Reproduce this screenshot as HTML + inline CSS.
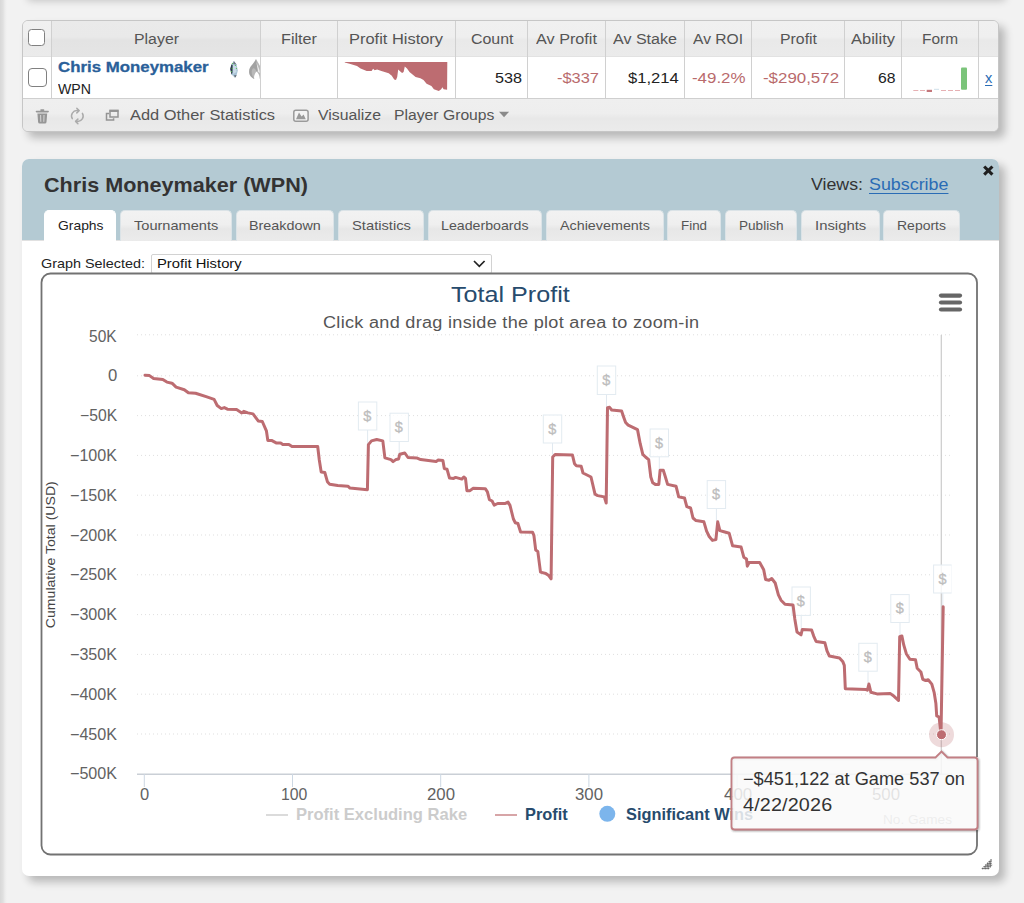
<!DOCTYPE html>
<html>
<head>
<meta charset="utf-8">
<title>Chris Moneymaker (WPN)</title>
<style>
*{box-sizing:border-box;margin:0;padding:0}
html,body{width:1024px;height:903px;overflow:hidden}
body{background:#f2f2f2;font-family:"Liberation Sans",sans-serif;position:relative;color:#222}
.a{position:absolute}
.t{position:absolute;white-space:nowrap;line-height:1}
#lstripe{left:0;top:0;width:8px;height:903px;background:linear-gradient(to right,#d8d8d8 0,#e0e0e0 3px,#ececec 5px,#f2f2f2 7px)}
#tstripe{left:22px;top:-20px;width:977px;height:14px;background:#fff;box-shadow:6px 6px 9px rgba(0,0,0,.24)}
#tbl{left:22px;top:20px;width:977px;height:112px;border:1px solid #c6c6c6;border-radius:6px;background:#efefef;box-shadow:6px 6px 9px rgba(0,0,0,.24);overflow:hidden}
#thead{left:0;top:0;width:976px;height:35px;background:linear-gradient(to bottom,#f0f0f0 0,#efefef 45%,#e9e9e9 55%,#ebebeb 100%)}
#trow{left:0;top:35px;width:976px;height:43px;background:#fff;border-top:1px solid #e2e2e2;border-bottom:1px solid #cfcfcf}
#tfoot{left:0;top:78px;width:976px;height:32px;background:linear-gradient(to bottom,#efefef 0,#eeeeee 45%,#e8e8e8 60%,#ebebeb 100%)}
.vd{position:absolute;top:0;width:1px;height:77px;background:#d0d0d0}
.cb{position:absolute;width:17px;height:17px;border:1.8px solid #808080;border-radius:3.5px;background:#fff}
#pnl{left:22px;top:159px;width:977px;height:717px;border-radius:7px;background:#fff;box-shadow:6px 6px 9px rgba(0,0,0,.24);overflow:hidden}
#phead{left:0;top:0;width:977px;height:82px;background:#b4cad3;border-bottom:1px solid #e1e1e1}
.tab{position:absolute;top:51px;height:31px;border-radius:5px 5px 0 0;background:linear-gradient(to bottom,#f2f2f2 0,#efefef 45%,#e7e7e7 60%,#ebebeb 100%);border:1px solid #dbe3e7;border-bottom:none}
.tab.on{background:#fff;border-color:#fff;height:32px}
#sel{left:151px;top:254px;width:341px;height:20px;background:#fff;border:1px solid #d2d2d2;border-radius:2px}
svg{position:absolute;left:0;top:0}
</style>
</head>
<body>
<div id="lstripe" class="a"></div>
<div id="tstripe" class="a"></div>
<div id="tbl" class="a">
<div id="thead" class="a"></div>
<div id="trow" class="a"></div>
<div id="tfoot" class="a"></div>
<div class="vd" style="left:28.0px"></div>
<div class="vd" style="left:237.0px"></div>
<div class="vd" style="left:313.5px"></div>
<div class="vd" style="left:431.5px"></div>
<div class="vd" style="left:504.0px"></div>
<div class="vd" style="left:582.0px"></div>
<div class="vd" style="left:661.0px"></div>
<div class="vd" style="left:728.0px"></div>
<div class="vd" style="left:821.0px"></div>
<div class="vd" style="left:878.0px"></div>
<div class="vd" style="left:954.5px"></div>
<div class="a" style="left:29px;top:0;width:208px;height:35px;background:rgba(0,0,0,.022)"></div>
<div class="cb" style="left:5px;top:8px"></div>
<div class="cb" style="left:4.5px;top:47px;width:19px;height:19px;border-radius:4px"></div>
</div>
<div id="pnl" class="a">
<div id="phead" class="a"></div>
<div class="tab on" style="left:22.0px;width:72.0px"></div>
<div class="tab" style="left:98.0px;width:112.0px"></div>
<div class="tab" style="left:213.5px;width:98.5px"></div>
<div class="tab" style="left:316.0px;width:86.0px"></div>
<div class="tab" style="left:406.0px;width:114.0px"></div>
<div class="tab" style="left:524.0px;width:118.0px"></div>
<div class="tab" style="left:645.0px;width:54.0px"></div>
<div class="tab" style="left:703.0px;width:72.0px"></div>
<div class="tab" style="left:779.0px;width:79.0px"></div>
<div class="tab" style="left:861.0px;width:77.0px"></div>
</div>
<div id="sel" class="a"></div>
<svg id="chart" width="1024" height="903" viewBox="0 0 1024 903">
<rect x="41.5" y="273.5" width="935.5" height="581" rx="9" ry="9" fill="#fff" stroke="#727272" stroke-width="1.8"/>
<path d="M474 261 L479.3 266.3 L484.6 261" fill="none" stroke="#222" stroke-width="1.7"/>
<line x1="137" x2="952" y1="334.8" y2="334.8" stroke="#dfdfdf" stroke-width="1" stroke-dasharray="1,3"/>
<line x1="137" x2="952" y1="375.8" y2="375.8" stroke="#dfdfdf" stroke-width="1" stroke-dasharray="1,3"/>
<line x1="137" x2="952" y1="415.6" y2="415.6" stroke="#dfdfdf" stroke-width="1" stroke-dasharray="1,3"/>
<line x1="137" x2="952" y1="455.4" y2="455.4" stroke="#dfdfdf" stroke-width="1" stroke-dasharray="1,3"/>
<line x1="137" x2="952" y1="495.2" y2="495.2" stroke="#dfdfdf" stroke-width="1" stroke-dasharray="1,3"/>
<line x1="137" x2="952" y1="535.0" y2="535.0" stroke="#dfdfdf" stroke-width="1" stroke-dasharray="1,3"/>
<line x1="137" x2="952" y1="574.8" y2="574.8" stroke="#dfdfdf" stroke-width="1" stroke-dasharray="1,3"/>
<line x1="137" x2="952" y1="614.6" y2="614.6" stroke="#dfdfdf" stroke-width="1" stroke-dasharray="1,3"/>
<line x1="137" x2="952" y1="654.4" y2="654.4" stroke="#dfdfdf" stroke-width="1" stroke-dasharray="1,3"/>
<line x1="137" x2="952" y1="694.2" y2="694.2" stroke="#dfdfdf" stroke-width="1" stroke-dasharray="1,3"/>
<line x1="137" x2="952" y1="734.0" y2="734.0" stroke="#dfdfdf" stroke-width="1" stroke-dasharray="1,3"/>
<line x1="137" x2="952" y1="774.2" y2="774.2" stroke="#cacfd6" stroke-width="1.4"/>
<line x1="144.3" x2="144.3" y1="774" y2="787" stroke="#cdd8e3" stroke-width="1"/>
<line x1="292.5" x2="292.5" y1="774" y2="787" stroke="#cdd8e3" stroke-width="1"/>
<line x1="440.7" x2="440.7" y1="774" y2="787" stroke="#cdd8e3" stroke-width="1"/>
<line x1="588.9" x2="588.9" y1="774" y2="787" stroke="#cdd8e3" stroke-width="1"/>
<line x1="737.1" x2="737.1" y1="774" y2="787" stroke="#cdd8e3" stroke-width="1"/>
<line x1="885.3" x2="885.3" y1="774" y2="787" stroke="#cdd8e3" stroke-width="1"/>
<line x1="941.3" x2="941.3" y1="335" y2="774" stroke="#cbcbcb" stroke-width="1.2"/>
<clipPath id="pc"><rect x="137" y="320" width="814.6" height="460"/></clipPath><g clip-path="url(#pc)">
<line x1="367.6" x2="367.6" y1="430" y2="444" stroke="#e1e9f0" stroke-width="1"/>
<rect x="358.4" y="402" width="18.4" height="28.0" fill="rgba(255,255,255,.8)" stroke="#e3ebf1" stroke-width="1"/>
<text x="367.3" y="420.5" text-anchor="middle" font-family="Liberation Sans" font-size="14.5" fill="#bdbdbd" stroke="#bdbdbd" stroke-width=".3">$</text>
<line x1="399.2" x2="399.2" y1="441.5" y2="454" stroke="#e1e9f0" stroke-width="1"/>
<rect x="390.0" y="413.2" width="18.4" height="28.3" fill="rgba(255,255,255,.8)" stroke="#e3ebf1" stroke-width="1"/>
<text x="398.9" y="431.7" text-anchor="middle" font-family="Liberation Sans" font-size="14.5" fill="#bdbdbd" stroke="#bdbdbd" stroke-width=".3">$</text>
<line x1="552.5" x2="552.5" y1="443" y2="454.5" stroke="#e1e9f0" stroke-width="1"/>
<rect x="543.3" y="415" width="18.4" height="28.0" fill="rgba(255,255,255,.8)" stroke="#e3ebf1" stroke-width="1"/>
<text x="552.2" y="433.5" text-anchor="middle" font-family="Liberation Sans" font-size="14.5" fill="#bdbdbd" stroke="#bdbdbd" stroke-width=".3">$</text>
<line x1="606.5" x2="606.5" y1="394.5" y2="407" stroke="#e1e9f0" stroke-width="1"/>
<rect x="597.3" y="366" width="18.4" height="28.5" fill="rgba(255,255,255,.8)" stroke="#e3ebf1" stroke-width="1"/>
<text x="606.2" y="384.5" text-anchor="middle" font-family="Liberation Sans" font-size="14.5" fill="#bdbdbd" stroke="#bdbdbd" stroke-width=".3">$</text>
<line x1="659.3" x2="659.3" y1="456.8" y2="470" stroke="#e1e9f0" stroke-width="1"/>
<rect x="650.1" y="429" width="18.4" height="27.8" fill="rgba(255,255,255,.8)" stroke="#e3ebf1" stroke-width="1"/>
<text x="659.0" y="447.5" text-anchor="middle" font-family="Liberation Sans" font-size="14.5" fill="#bdbdbd" stroke="#bdbdbd" stroke-width=".3">$</text>
<line x1="716.4" x2="716.4" y1="508.5" y2="521.5" stroke="#e1e9f0" stroke-width="1"/>
<rect x="707.2" y="480.6" width="18.4" height="27.9" fill="rgba(255,255,255,.8)" stroke="#e3ebf1" stroke-width="1"/>
<text x="716.1" y="499.1" text-anchor="middle" font-family="Liberation Sans" font-size="14.5" fill="#bdbdbd" stroke="#bdbdbd" stroke-width=".3">$</text>
<line x1="801.2" x2="801.2" y1="615.4" y2="630" stroke="#e1e9f0" stroke-width="1"/>
<rect x="792.0" y="587" width="18.4" height="28.4" fill="rgba(255,255,255,.8)" stroke="#e3ebf1" stroke-width="1"/>
<text x="800.9" y="605.5" text-anchor="middle" font-family="Liberation Sans" font-size="14.5" fill="#bdbdbd" stroke="#bdbdbd" stroke-width=".3">$</text>
<line x1="868.0" x2="868.0" y1="671.2" y2="684" stroke="#e1e9f0" stroke-width="1"/>
<rect x="858.8" y="643.3" width="18.4" height="27.9" fill="rgba(255,255,255,.8)" stroke="#e3ebf1" stroke-width="1"/>
<text x="867.7" y="661.8" text-anchor="middle" font-family="Liberation Sans" font-size="14.5" fill="#bdbdbd" stroke="#bdbdbd" stroke-width=".3">$</text>
<line x1="900.0" x2="900.0" y1="622.5" y2="636" stroke="#e1e9f0" stroke-width="1"/>
<rect x="890.8" y="594.6" width="18.4" height="27.9" fill="rgba(255,255,255,.8)" stroke="#e3ebf1" stroke-width="1"/>
<text x="899.7" y="613.1" text-anchor="middle" font-family="Liberation Sans" font-size="14.5" fill="#bdbdbd" stroke="#bdbdbd" stroke-width=".3">$</text>
<line x1="942.8" x2="942.8" y1="593" y2="606" stroke="#e1e9f0" stroke-width="1"/>
<rect x="933.6" y="565" width="18.4" height="28.0" fill="rgba(255,255,255,.8)" stroke="#e3ebf1" stroke-width="1"/>
<text x="942.5" y="583.5" text-anchor="middle" font-family="Liberation Sans" font-size="14.5" fill="#bdbdbd" stroke="#bdbdbd" stroke-width=".3">$</text>
</g>
<polyline points="145.0,375.2 149.5,375.6 153.6,378.5 162.8,379.5 166.9,382.1 172.0,383.2 176.1,387.1 184.3,389.7 188.4,392.8 195.6,393.2 206.9,396.9 214.1,399.4 217.2,405.5 221.3,408.6 224.3,407.6 227.4,409.2 236.6,409.6 241.8,412.9 243.8,411.3 247.9,412.9 253.0,413.9 258.2,420.9 262.3,421.5 266.4,430.8 267.8,440.4 271.5,440.4 276.6,443.1 280.7,443.1 282.8,444.5 288.9,444.5 292.0,446.5 317.7,446.5 319.3,460.0 321.2,471.9 324.8,472.5 327.4,481.7 329.7,484.2 337.7,485.6 347.9,486.2 350.0,488.1 367.4,489.7 368.4,444.6 371.5,440.9 376.7,439.5 382.8,440.9 384.9,457.9 391.0,459.6 393.1,461.6 396.1,459.4 398.6,459.0 399.8,454.2 404.8,453.0 408.0,457.5 416.6,457.9 420.7,459.6 436.1,461.6 438.2,460.0 442.9,460.6 444.3,468.6 447.0,469.2 449.5,478.0 453.6,478.4 455.6,477.4 461.8,479.1 463.8,477.0 465.5,478.4 466.9,490.7 470.0,490.7 473.0,488.3 485.3,488.7 487.4,491.8 489.4,499.6 492.1,501.0 494.2,505.1 497.7,503.5 504.8,503.6 508.0,502.1 510.0,505.4 513.4,519.0 515.3,522.7 517.9,523.5 520.6,532.0 532.5,532.2 533.9,535.4 535.7,550.0 537.8,551.4 540.5,572.1 545.8,573.5 549.0,575.8 551.1,578.8 552.7,457.0 555.1,454.4 572.4,454.9 574.5,463.7 576.4,465.8 581.2,466.3 583.0,473.0 591.0,477.0 595.0,494.2 597.7,495.6 604.3,496.9 606.2,503.0 607.5,407.8 609.6,407.3 611.7,410.0 621.6,411.0 623.7,417.2 625.6,422.5 628.2,425.1 637.5,429.6 640.2,443.7 642.8,454.4 645.5,457.0 648.7,459.7 650.8,477.0 652.7,482.8 655.3,484.4 658.8,484.4 660.1,470.3 663.3,470.3 665.4,477.0 667.6,484.4 676.1,486.3 678.7,496.9 684.5,498.0 686.8,506.7 690.6,508.0 693.0,518.0 696.0,520.6 703.9,521.8 706.6,531.1 709.2,536.5 712.4,540.4 715.9,539.6 717.7,521.8 719.9,530.6 723.9,531.7 729.2,533.3 732.6,545.8 741.1,547.1 743.8,557.2 746.5,559.0 747.3,566.2 749.1,562.5 759.7,562.5 763.7,569.7 765.6,579.5 769.0,580.3 771.7,578.5 775.2,583.0 778.4,594.9 781.0,600.2 785.0,604.2 793.0,605.0 794.8,618.9 797.0,632.1 801.0,634.8 802.3,629.5 811.6,630.0 813.7,636.1 816.1,641.5 824.9,642.8 827.0,650.8 829.4,656.1 839.5,657.9 842.7,661.4 844.3,665.4 845.3,688.8 866.1,689.6 867.4,690.2 868.9,684.0 870.9,692.3 877.0,693.9 890.4,693.6 894.1,696.3 898.5,700.5 899.7,636.7 901.9,636.0 903.8,645.2 906.3,653.7 909.9,659.3 915.5,659.8 917.2,668.3 920.9,672.0 922.8,679.3 925.7,680.5 928.2,679.8 931.8,684.1 934.2,692.7 935.9,703.6 936.7,715.8 939.1,717.0 941.0,734.0 943.2,606.8" fill="none" stroke="#bd6c71" stroke-width="3" stroke-linejoin="round" stroke-linecap="round"/>
<circle cx="941.5" cy="734.7" r="12.5" fill="#bd6c71" fill-opacity=".25"/>
<circle cx="941.5" cy="734.7" r="5" fill="#bd6c71" stroke="#fff" stroke-width="1"/>
<line x1="941" x2="960" y1="295.6" y2="295.6" stroke="#666" stroke-width="4.2" stroke-linecap="round"/>
<line x1="941" x2="960" y1="302.5" y2="302.5" stroke="#666" stroke-width="4.2" stroke-linecap="round"/>
<line x1="941" x2="960" y1="309.5" y2="309.5" stroke="#666" stroke-width="4.2" stroke-linecap="round"/>
<line x1="266" x2="288" y1="815" y2="815" stroke="#d2d2d2" stroke-width="1.6"/>
<line x1="495" x2="517" y1="815" y2="815" stroke="#c67e82" stroke-width="1.4"/>
<circle cx="607.3" cy="813.8" r="8" fill="#7cb5ec"/>
<polygon points="344.8,62 344.8,62.6 349.6,63.8 357.0,66.0 360.6,68.4 366.7,70.9 371.6,71.1 373.1,68.7 374.7,70.3 377.1,69.4 381.4,70.9 388.7,73.3 391.8,75.8 394.2,79.4 396.0,80.0 397.2,77.0 398.2,69.4 400.3,71.5 402.1,73.1 403.6,72.1 404.8,66.6 407.0,68.4 409.5,72.1 415.6,77.0 420.4,78.2 423.5,80.0 426.6,83.7 431.4,86.1 433.9,89.2 438.8,91.0 441.2,89.2 442.4,87.3 443.6,89.2 447.1,89.8 447.3,62.1 447.3,62" fill="#bd6c71"/>
<rect x="961" y="67.5" width="6" height="22.3" rx="1" fill="#7bc47a"/>
<rect x="913.3" y="90" width="5" height="1" fill="#e6b0b3"/>
<rect x="920" y="90" width="5" height="1" fill="#e6b0b3"/>
<rect x="941" y="90" width="5" height="1" fill="#e6b0b3"/>
<rect x="948" y="90" width="5" height="1" fill="#e6b0b3"/>
<rect x="955" y="90" width="5" height="1" fill="#e6b0b3"/>
<rect x="926.7" y="89.8" width="5.3" height="2.2" fill="#c4777b"/>
<rect x="934" y="88.8" width="5" height="1" fill="#cfe0ea"/>
<text transform="translate(54.9,554.7) rotate(-90)" text-anchor="middle" textLength="147" lengthAdjust="spacingAndGlyphs" font-family="Liberation Sans" font-size="12.5" fill="#444">Cumulative Total (USD)</text>
<!-- trash -->
<g fill="#969696" stroke="none">
<rect x="35.7" y="110.7" width="13.2" height="1.7" rx=".8"/>
<rect x="40.3" y="109.3" width="4" height="1.6" rx=".6"/>
<path d="M37.4 113.4 L47.2 113.4 L46.5 122 Q46.4 123.5 44.9 123.5 L39.7 123.5 Q38.2 123.5 38.1 122 Z"/>
</g>
<g stroke="#d6d6d6" stroke-width="1" fill="none"><line x1="40.6" y1="115" x2="40.8" y2="121.8"/><line x1="44" y1="115" x2="43.8" y2="121.8"/></g>
<!-- refresh -->
<g fill="none" stroke="#ababab" stroke-width="1.5" stroke-linecap="round" stroke-linejoin="round">
<path d="M72.3 118.6 A5.3 5.3 0 0 1 77.3 110.6 L78.6 110.6"/>
<path d="M76.8 108.3 L79.1 110.6 L76.8 112.9"/>
<path d="M82.4 113.4 A5.3 5.3 0 0 1 77.4 121.4 L76.1 121.4"/>
<path d="M77.9 119.1 L75.6 121.4 L77.9 123.7"/>
</g>
<!-- new window -->
<g fill="none" stroke="#949494" stroke-width="1.5">
<path d="M109.2 113.6 L106.5 113.6 L106.5 120 L113.6 120 L113.6 118.2"/>
<rect x="110" y="111.2" width="8" height="5.8"/>
<line x1="109.3" y1="110.6" x2="118.7" y2="110.6" stroke-width="2"/>
</g>
<!-- picture -->
<rect x="293.8" y="110.3" width="14.3" height="11" rx="2" fill="#f3f3f3" stroke="#9a9a9a" stroke-width="1.5"/>
<path d="M296 119.2 L299 112.6 L301.6 116.6 L303.6 114.6 L305.8 119.2 Z" fill="#9a9a9a"/>
<!-- caret -->
<path d="M499 111.7 L509.1 111.7 L504.05 117.3 Z" fill="#8a8a8a"/>
<!-- gem -->
<g>
<path d="M233.8 61 L236.6 64.5 L237.8 70.5 L236.6 75.5 L235 77.8 L231.5 74.5 L230.2 69 L231.4 64.5 Z" fill="#a9c3d6"/>
<path d="M231.4 64.5 L232.6 65 L232.4 73 L231.5 74.5 L230.2 69 Z" fill="#2f3b4a"/>
<path d="M233.8 61 L236.6 64.5 L233.2 64 Z" fill="#6f7680"/>
<path d="M236.6 75.5 L235 77.8 L234.2 75 Z" fill="#5d6168"/>
<path d="M233 65 L236 66 L236.5 72 L233.2 74 Z" fill="#c9dbe8"/>
<circle cx="232.4" cy="63.6" r=".6" fill="#58c247"/><circle cx="235.4" cy="65.5" r=".6" fill="#58c247"/><circle cx="236.4" cy="68.5" r=".6" fill="#58c247"/><circle cx="232.2" cy="68.5" r=".6" fill="#58c247"/><circle cx="231.4" cy="71.6" r=".6" fill="#58c247"/>
</g>
<!-- flame (clipped by col divider at 260) -->
<g>
<clipPath id="fc"><rect x="245" y="57" width="15" height="41"/></clipPath>
<g clip-path="url(#fc)">
<path d="M256 59 C258 63 262 68 262.5 73 C262.8 76 261 78.5 259.5 78.8 C259.9 76 258.5 73 256.5 71.5 C254.8 73.5 253.5 76.5 254.3 78.9 C251.5 77.8 249 75 249.1 71.5 C249.3 66 254.5 63.5 256 59 Z" fill="#b9b9b9"/>
<path d="M256 59 C256.6 63.5 258.5 67 258.6 70.5 L256.5 71.5 C255 68 253 67 252 70 C251 73 252.5 77 254.3 78.9 C251.5 77.8 249 75 249.1 71.5 C249.3 66 254.5 63.5 256 59 Z" fill="#8f8f8f" opacity=".55"/>
<path d="M256.4 62 C257.5 66 259.8 69 259.9 73 L258 71.8 C257.6 68.5 256.8 65 256.4 62 Z" fill="#ededed"/>
</g></g>
<!-- close X -->
<g stroke="#1f1f1f" stroke-width="3.1" stroke-linecap="butt"><line x1="984.2" y1="166.5" x2="992.4" y2="174.7"/><line x1="992.4" y1="166.5" x2="984.2" y2="174.7"/></g>
<!-- resize grip -->
<g stroke="#6a6a6a" stroke-width="1.5" stroke-dasharray="1.5,.9"><line x1="982" y1="869" x2="991.8" y2="859.2"/><line x1="985" y1="869" x2="991.8" y2="862.2"/><line x1="988" y1="869" x2="991.8" y2="865.2"/><line x1="983.5" y1="869" x2="991.8" y2="860.7"/><line x1="986.5" y1="869" x2="991.8" y2="863.7"/></g>

</svg>
<div class="t" id="h_player" style="left:134.0px;top:31.2px;font-size:15.5px;color:#555;transform:scaleX(1.024);transform-origin:0 50%;">Player</div>
<div class="t" id="h_filter" style="left:281.0px;top:31.2px;font-size:15.5px;color:#555;transform:scaleX(1.045);transform-origin:0 50%;">Filter</div>
<div class="t" id="h_ph" style="left:349.0px;top:31.2px;font-size:15.5px;color:#555;transform:scaleX(1.060);transform-origin:0 50%;">Profit History</div>
<div class="t" id="h_count" style="left:470.5px;top:31.2px;font-size:15.5px;color:#555;transform:scaleX(1.027);transform-origin:0 50%;">Count</div>
<div class="t" id="h_avp" style="left:536.0px;top:31.2px;font-size:15.5px;color:#555;transform:scaleX(1.046);transform-origin:0 50%;">Av Profit</div>
<div class="t" id="h_avs" style="left:613.0px;top:31.2px;font-size:15.5px;color:#555;transform:scaleX(1.036);transform-origin:0 50%;">Av Stake</div>
<div class="t" id="h_avr" style="left:693.0px;top:31.2px;font-size:15.5px;color:#555;transform:scaleX(1.007);transform-origin:0 50%;">Av ROI</div>
<div class="t" id="h_profit" style="left:780.0px;top:31.2px;font-size:15.5px;color:#555;transform:scaleX(1.022);transform-origin:0 50%;">Profit</div>
<div class="t" id="h_abil" style="left:851.0px;top:31.2px;font-size:15.5px;color:#555;transform:scaleX(1.064);transform-origin:0 50%;">Ability</div>
<div class="t" id="h_form" style="left:922.0px;top:31.2px;font-size:15.5px;color:#555;transform:scaleX(0.995);transform-origin:0 50%;">Form</div>
<div class="t" id="pname" style="left:58.0px;top:59.4px;font-size:15.5px;color:#2a6099;font-weight:bold;transform:scaleX(1.086);transform-origin:0 50%;-webkit-text-stroke:.3px #2a6099;">Chris Moneymaker</div>
<div class="t" id="pnet" style="left:58.0px;top:81.5px;font-size:14.5px;color:#222;transform:scaleX(0.975);transform-origin:0 50%;">WPN</div>
<div class="t" id="c_count" style="left:495.0px;top:69.9px;font-size:15.5px;color:#222;transform:scaleX(1.043);transform-origin:0 50%;">538</div>
<div class="t" id="c_avp" style="left:557.0px;top:69.9px;font-size:15.5px;color:#b96a6c;transform:scaleX(1.059);transform-origin:0 50%;">-$337</div>
<div class="t" id="c_avs" style="left:628.0px;top:69.9px;font-size:15.5px;color:#222;transform:scaleX(1.069);transform-origin:0 50%;">$1,214</div>
<div class="t" id="c_avr" style="left:691.5px;top:69.9px;font-size:15.5px;color:#b96a6c;transform:scaleX(1.089);transform-origin:0 50%;">-49.2%</div>
<div class="t" id="c_profit" style="left:763.0px;top:69.9px;font-size:15.5px;color:#b96a6c;transform:scaleX(1.089);transform-origin:0 50%;">-$290,572</div>
<div class="t" id="c_abil" style="left:878.0px;top:69.9px;font-size:15.5px;color:#222;transform:scaleX(1.014);transform-origin:0 50%;">68</div>
<div class="t" id="xlink" style="left:985.0px;top:69.9px;font-size:15.5px;color:#2a6cb5;transform:scaleX(0.942);transform-origin:0 50%;text-decoration:underline;text-underline-offset:2px;">x</div>
<div class="t" id="f1" style="left:130.0px;top:106.9px;font-size:15.5px;color:#555;transform:scaleX(1.059);transform-origin:0 50%;">Add Other Statistics</div>
<div class="t" id="f2" style="left:318.0px;top:106.9px;font-size:15.5px;color:#555;transform:scaleX(1.020);transform-origin:0 50%;">Visualize</div>
<div class="t" id="f3" style="left:393.5px;top:106.9px;font-size:15.5px;color:#555;transform:scaleX(1.014);transform-origin:0 50%;">Player Groups</div>
<div class="t" id="ptitle" style="left:44.0px;top:174.2px;font-size:21px;color:#333;font-weight:bold;transform:scaleX(1.028);transform-origin:0 50%;">Chris Moneymaker (WPN)</div>
<div class="t" id="views" style="left:810.5px;top:176.1px;font-size:17px;color:#333;transform:scaleX(1.045);transform-origin:0 50%;">Views:</div>
<div class="t" id="subs" style="left:868.5px;top:176.1px;font-size:17px;color:#2a6cb5;transform:scaleX(1.051);transform-origin:0 50%;text-decoration:underline;text-underline-offset:2.5px;text-decoration-thickness:1.3px;">Subscribe</div>
<div class="t" id="tab0" style="left:57.5px;top:218.6px;font-size:13.5px;color:#222;transform:scaleX(1.028);transform-origin:0 50%;">Graphs</div>
<div class="t" id="tab1" style="left:133.7px;top:218.6px;font-size:13.5px;color:#555;transform:scaleX(1.080);transform-origin:0 50%;">Tournaments</div>
<div class="t" id="tab2" style="left:248.7px;top:218.6px;font-size:13.5px;color:#555;transform:scaleX(1.063);transform-origin:0 50%;">Breakdown</div>
<div class="t" id="tab3" style="left:351.5px;top:218.6px;font-size:13.5px;color:#555;transform:scaleX(1.092);transform-origin:0 50%;">Statistics</div>
<div class="t" id="tab4" style="left:441.0px;top:218.6px;font-size:13.5px;color:#555;transform:scaleX(1.050);transform-origin:0 50%;">Leaderboards</div>
<div class="t" id="tab5" style="left:560.0px;top:218.6px;font-size:13.5px;color:#555;transform:scaleX(1.061);transform-origin:0 50%;">Achievements</div>
<div class="t" id="tab6" style="left:681.0px;top:218.6px;font-size:13.5px;color:#555;transform:scaleX(0.990);transform-origin:0 50%;">Find</div>
<div class="t" id="tab7" style="left:738.5px;top:218.6px;font-size:13.5px;color:#555;transform:scaleX(1.005);transform-origin:0 50%;">Publish</div>
<div class="t" id="tab8" style="left:814.7px;top:218.6px;font-size:13.5px;color:#555;transform:scaleX(1.102);transform-origin:0 50%;">Insights</div>
<div class="t" id="tab9" style="left:897.0px;top:218.6px;font-size:13.5px;color:#555;transform:scaleX(1.036);transform-origin:0 50%;">Reports</div>
<div class="t" id="gsel" style="left:41.0px;top:256.6px;font-size:13.5px;color:#222;transform:scaleX(1.066);transform-origin:0 50%;">Graph Selected:</div>
<div class="t" id="gval" style="left:157.0px;top:256.6px;font-size:13.5px;color:#111;transform:scaleX(1.096);transform-origin:0 50%;">Profit History</div>
<div class="t" id="ctitle" style="left:451.2px;top:284.0px;font-size:22.5px;color:#274b6d;transform:scaleX(1.117);transform-origin:0 50%;">Total Profit</div>
<div class="t" id="csub" style="left:322.6px;top:314.7px;font-size:16px;color:#555;letter-spacing:0.26px;transform:scaleX(1.130);transform-origin:0 50%;">Click and drag inside the plot area to zoom-in</div>
<div class="t" id="yl0" style="left:89.2px;top:328.6px;font-size:15.6px;color:#626262;transform:scaleX(0.995);transform-origin:0 50%;">50K</div>
<div class="t" id="yl1" style="left:107.5px;top:368.4px;font-size:15.6px;color:#626262;transform:scaleX(1.071);transform-origin:0 50%;">0</div>
<div class="t" id="yl2" style="left:79.6px;top:408.2px;font-size:15.6px;color:#626262;transform:scaleX(1.009);transform-origin:0 50%;">−50K</div>
<div class="t" id="yl3" style="left:69.8px;top:448.0px;font-size:15.6px;color:#626262;transform:scaleX(1.032);transform-origin:0 50%;">−100K</div>
<div class="t" id="yl4" style="left:69.8px;top:487.8px;font-size:15.6px;color:#626262;transform:scaleX(1.032);transform-origin:0 50%;">−150K</div>
<div class="t" id="yl5" style="left:69.8px;top:527.6px;font-size:15.6px;color:#626262;transform:scaleX(1.032);transform-origin:0 50%;">−200K</div>
<div class="t" id="yl6" style="left:69.8px;top:567.4px;font-size:15.6px;color:#626262;transform:scaleX(1.032);transform-origin:0 50%;">−250K</div>
<div class="t" id="yl7" style="left:69.8px;top:607.2px;font-size:15.6px;color:#626262;transform:scaleX(1.032);transform-origin:0 50%;">−300K</div>
<div class="t" id="yl8" style="left:69.8px;top:647.0px;font-size:15.6px;color:#626262;transform:scaleX(1.032);transform-origin:0 50%;">−350K</div>
<div class="t" id="yl9" style="left:69.8px;top:686.8px;font-size:15.6px;color:#626262;transform:scaleX(1.032);transform-origin:0 50%;">−400K</div>
<div class="t" id="yl10" style="left:69.8px;top:726.6px;font-size:15.6px;color:#626262;transform:scaleX(1.032);transform-origin:0 50%;">−450K</div>
<div class="t" id="yl11" style="left:69.8px;top:766.4px;font-size:15.6px;color:#626262;transform:scaleX(1.032);transform-origin:0 50%;">−500K</div>
<div class="t" id="xl0" style="left:139.8px;top:787.0px;font-size:15.6px;color:#626262;transform:scaleX(1.059);transform-origin:0 50%;">0</div>
<div class="t" id="xl1" style="left:280.5px;top:787.0px;font-size:15.6px;color:#626262;transform:scaleX(1.014);transform-origin:0 50%;">100</div>
<div class="t" id="xl2" style="left:427.2px;top:787.0px;font-size:15.6px;color:#626262;transform:scaleX(1.076);transform-origin:0 50%;">200</div>
<div class="t" id="xl3" style="left:575.2px;top:787.0px;font-size:15.6px;color:#626262;transform:scaleX(1.076);transform-origin:0 50%;">300</div>
<div class="t" id="xl4" style="left:723.6px;top:787.0px;font-size:15.6px;color:#626262;transform:scaleX(1.083);transform-origin:0 50%;">400</div>
<div class="t" id="xl5" style="left:872.2px;top:787.0px;font-size:15.6px;color:#626262;transform:scaleX(1.076);transform-origin:0 50%;">500</div>
<div class="t" id="xtitle" style="left:883.0px;top:814.4px;font-size:12.5px;color:#aaa;transform:scaleX(1.091);transform-origin:0 50%;">No. Games</div>
<div class="t" id="lg0" style="left:295.7px;top:806.1px;font-size:17px;color:#cccccc;font-weight:bold;transform:scaleX(0.974);transform-origin:0 50%;">Profit Excluding Rake</div>
<div class="t" id="lg1" style="left:524.5px;top:806.1px;font-size:17px;color:#274b6d;font-weight:bold;transform:scaleX(0.962);transform-origin:0 50%;">Profit</div>
<div class="t" id="lg2" style="left:625.8px;top:806.1px;font-size:17px;color:#274b6d;font-weight:bold;transform:scaleX(0.962);transform-origin:0 50%;">Significant Wins</div>
<svg id="tip" width="1024" height="903" viewBox="0 0 1024 903">
<rect x="975.5" y="757" width="3.5" height="73" fill="#fff"/>
<path d="M734.5 757.5 L935.5 757.5 L941.5 751.5 L947.5 757.5 L974.5 757.5 Q977.5 757.5 977.5 760.5 L977.5 826.5 Q977.5 829.5 974.5 829.5 L734.5 829.5 Q731.5 829.5 731.5 826.5 L731.5 760.5 Q731.5 757.5 734.5 757.5 Z" fill="none" stroke="#000" stroke-opacity="0.05" stroke-width="5" transform="translate(1,1)"/>
<path d="M734.5 757.5 L935.5 757.5 L941.5 751.5 L947.5 757.5 L974.5 757.5 Q977.5 757.5 977.5 760.5 L977.5 826.5 Q977.5 829.5 974.5 829.5 L734.5 829.5 Q731.5 829.5 731.5 826.5 L731.5 760.5 Q731.5 757.5 734.5 757.5 Z" fill="none" stroke="#000" stroke-opacity="0.1" stroke-width="3" transform="translate(1,1)"/>
<path d="M734.5 757.5 L935.5 757.5 L941.5 751.5 L947.5 757.5 L974.5 757.5 Q977.5 757.5 977.5 760.5 L977.5 826.5 Q977.5 829.5 974.5 829.5 L734.5 829.5 Q731.5 829.5 731.5 826.5 L731.5 760.5 Q731.5 757.5 734.5 757.5 Z" fill="none" stroke="#000" stroke-opacity="0.15" stroke-width="1" transform="translate(1,1)"/>
<path d="M734.5 757.5 L935.5 757.5 L941.5 751.5 L947.5 757.5 L974.5 757.5 Q977.5 757.5 977.5 760.5 L977.5 826.5 Q977.5 829.5 974.5 829.5 L734.5 829.5 Q731.5 829.5 731.5 826.5 L731.5 760.5 Q731.5 757.5 734.5 757.5 Z" fill="rgba(249,249,249,.85)" stroke="#c27f84" stroke-width="1.8"/>
</svg>
<div class="t" id="tt1" style="left:743.0px;top:771.2px;font-size:17.5px;color:#333;transform:scaleX(1.039);transform-origin:0 50%;">−$451,122 at Game 537 on</div>
<div class="t" id="tt2" style="left:743.0px;top:797.2px;font-size:17.5px;color:#333;letter-spacing:0.13px;transform:scaleX(1.130);transform-origin:0 50%;">4/22/2026</div>
</body>
</html>
